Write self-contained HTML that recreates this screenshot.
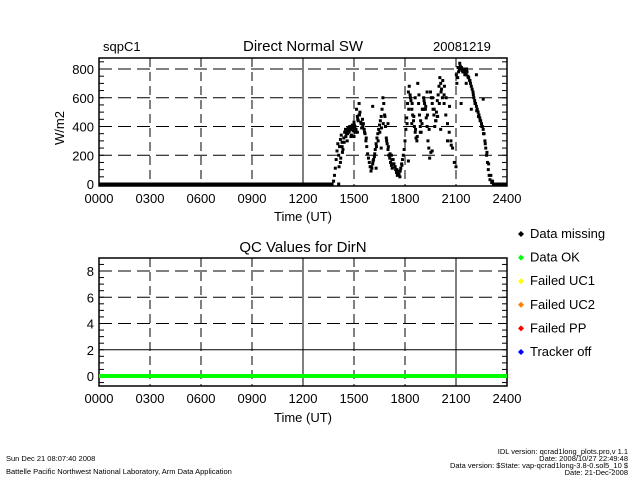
<!DOCTYPE html>
<html><head><meta charset="utf-8"><style>
body{margin:0;background:#fff;}
svg{display:block;font-family:"Liberation Sans",sans-serif;}
</style></head><body>
<svg id="c" width="640" height="480" viewBox="0 0 640 480">
<rect width="640" height="480" fill="#fff"/>
<g id="g1"></g>
<g id="g2"></g>
<text x="103" y="51" font-size="13">sqpC1</text>
<text x="303" y="51" font-size="15" text-anchor="middle">Direct Normal SW</text>
<text x="433" y="51" font-size="13">20081219</text>
<text x="64" y="128" font-size="13" text-anchor="middle" transform="rotate(-90 64 128)">W/m2</text>
<text x="303" y="221" font-size="13" text-anchor="middle">Time (UT)</text>
<text x="303" y="252" font-size="15" text-anchor="middle">QC Values for DirN</text>
<text x="303" y="422" font-size="13" text-anchor="middle">Time (UT)</text>
<g id="legend"></g>
<g font-size="7.5">
<text x="6" y="461">Sun Dec 21 08:07:40 2008</text>
<text x="6" y="474">Battelle Pacific Northwest National Laboratory, Arm Data Application</text>
<text x="628" y="454" text-anchor="end">IDL version: qcrad1long_plots.pro,v 1.1</text>
<text x="628" y="461" text-anchor="end">Date: 2008/10/27 22:49:48</text>
<text x="628" y="468" text-anchor="end">Data version: $State: vap-qcrad1long-3.8-0.sol5_10 $</text>
<text x="628" y="475" text-anchor="end">Date: 21-Dec-2008</text>
</g>
</svg>
<script>
const xTicks=["0000","0300","0600","0900","1200","1500","1800","2100","2400"];
const y1Ticks=[0,200,400,600,800];
const y2Ticks=[0,2,4,6,8];
const times=[13.7,13.8,13.85,13.9,13.95,14.0,14.05,14.1,14.15,14.2,14.25,14.3,14.35,14.4,14.45,14.5,14.55,14.6,14.65,14.7,14.75,14.8,14.85,14.9,14.95,15.0,15.05,15.1,15.15,15.2,15.25,15.3,15.35,15.4,15.45,15.5,15.55,15.6,15.65,15.7,15.75,15.8,15.85,15.9,15.95,16.0,16.05,16.1,16.15,16.2,16.25,16.3,16.35,16.4,16.45,16.5,16.55,16.6,16.65,16.7,16.75,16.8,16.85,16.9,16.95,17.0,17.05,17.1,17.15,17.2,17.25,17.3,17.35,17.4,17.45,17.5,17.55,17.6,17.65,17.7,17.75,17.8,17.85,17.9,17.95,18.0,18.05,18.1,18.15,18.2,18.25,18.3,18.35,18.4,18.45,18.5,18.55,18.6,18.65,18.7,18.75,18.8,18.85,18.9,18.95,19.0,19.05,19.1,19.15,19.2,19.25,19.3,19.35,19.4,19.45,19.5,19.55,19.6,19.65,19.7,19.75,19.8,19.85,19.9,19.95,20.0,20.05,20.1,20.15,20.2,20.3,20.4,20.5,20.6,20.7,20.8,20.9,21.0,21.05,21.1,21.15,21.2,21.25,21.3,21.35,21.4,21.45,21.5,21.55,21.6,21.65,21.7,21.75,21.8,21.85,21.9,21.95,22.0,22.05,22.1,22.15,22.2,22.25,22.3,22.35,22.4,22.45,22.5,22.55,22.6,22.65,22.7,22.75,22.8,22.85,22.9,22.95,23.0,23.1,23.2,14.1,14.2,14.3,14.6,14.8,15.0,15.2,15.3,16.1,16.3,16.6,17.0,17.2,18.2,18.4,18.6,18.9,19.1,19.3,19.6,19.9,20.1,20.3,20.5,21.3,21.6,21.9,22.2,22.6,
14.12,14.22,14.32,14.42,14.52,14.62,14.72,14.82,14.92,15.02,15.12,15.22,15.32,15.42,15.52,15.62,15.72,16.02,16.12,16.22,16.32,16.42,16.52,16.62,16.72,16.82,16.92,17.02,17.12,17.22,17.32,17.42,17.52,17.62,17.72,17.82,18.12,18.22,18.32,18.42,18.52,18.62,18.72,18.82,18.92,19.02,19.12,19.22,19.32,19.42,19.52,19.62,19.72,19.82,19.92,20.02,20.12,20.22,20.32,20.42,20.62,20.72,21.02,21.12,21.22,21.32,21.42,21.52,21.62,21.72,21.82,22.02,22.12,22.22,22.32,22.42,22.52,22.62,22.72,22.82,22.92,23.05,23.15];
const values=[0,20,60,110,170,230,280,200,260,310,340,290,240,320,360,380,350,370,390,360,400,380,340,410,370,430,400,360,520,470,440,560,500,430,390,450,420,380,350,300,260,210,180,150,120,90,110,140,170,190,240,280,320,350,380,410,440,470,520,600,560,480,400,320,280,240,200,180,150,130,110,170,140,120,100,80,60,90,70,50,110,140,170,200,240,300,380,460,560,640,680,620,580,520,480,440,400,360,320,300,700,560,480,400,360,420,520,600,560,520,460,400,300,250,180,640,600,560,520,480,400,440,500,580,620,680,740,700,660,600,560,480,420,360,300,250,150,120,700,740,780,800,820,800,790,780,800,790,770,760,780,750,740,720,700,680,660,640,600,580,560,540,520,500,480,460,440,420,400,380,350,300,250,200,150,100,60,30,10,0,0,150,260,300,400,330,360,480,540,110,250,420,200,160,420,600,360,520,640,230,470,380,620,300,560,700,520,760,590,
120,180,220,290,330,350,370,330,390,410,380,450,480,420,400,360,320,120,160,210,260,300,360,390,420,470,300,260,210,170,140,120,100,70,90,130,420,520,600,560,470,380,330,620,440,520,580,540,480,380,220,600,520,440,470,560,640,720,680,600,540,270,760,810,840,810,780,760,800,740,720,620,560,510,470,440,400,350,280,220,140,60,20];
const qcVals=[0,0];
const qcTimes=[0,24];
const NS="http://www.w3.org/2000/svg";
const L=99,R=507;
const X=h=>L+(R-L)*h/24;
const T1=58,B1=186,Y1=v=>184-v*(115/800);
const T2=258,B2=386,Y2=v=>376-v*(105/8);
function el(tag,at,p){const e=document.createElementNS(NS,tag);for(const k in at)e.setAttribute(k,at[k]);p.appendChild(e);return e;}
function panel(g,T,B,Y,yt,minorStep,ymax,ymin,hSolid){
  xTicks.forEach((t,i)=>{if(i==0||i==8)return;const x=X(i*3);
    const l=el('line',{x1:x,x2:x,y1:T,y2:B,stroke:'#000','stroke-width':1,'stroke-dasharray':(i==4||(hSolid&&i==7))?'':'9,5'},g);
    
    });
  yt.forEach(v=>{if(v==0)return;const y=Y(v);
    const l=el('line',{x1:L,x2:R,y1:y,y2:y,stroke:'#000','stroke-width':1,'stroke-dasharray':(hSolid&&v==2)?'':'13,6'},g);
    
    
    });
  for(let v=Math.ceil(ymin/minorStep)*minorStep;v<=ymax;v+=minorStep){const y=Y(v);
    el('line',{x1:L,x2:L+5,y1:y,y2:y,stroke:'#000'},g);el('line',{x1:R-5,x2:R,y1:y,y2:y,stroke:'#000'},g);}
  const f=el('rect',{x:L,y:T,width:R-L,height:B-T,fill:'none',stroke:'#000','stroke-width':1.5},g);
  
  
  xTicks.forEach((t,i)=>{const tx=el('text',{x:X(i*3),y:B+17,'font-size':13,'text-anchor':'middle'},g);tx.textContent=t;
    
    });
  yt.forEach(v=>{const tx=el('text',{x:L-5,y:Y(v)+5,'font-size':13,'text-anchor':'end'},g);tx.textContent=v;
    
    });
}
const g1=document.getElementById('g1'),g2=document.getElementById('g2');
panel(g1,T1,B1,Y1,y1Ticks,50,885,-10,false);
panel(g2,T2,B2,Y2,y2Ticks,0.5,8.9,-0.7,true);
const bl=el('line',{x1:X(0),x2:X(13.8),y1:Y1(0),y2:Y1(0),stroke:'#000','stroke-width':3},g1);


const bl2=el('line',{x1:X(23.2),x2:X(24),y1:Y1(0),y2:Y1(0),stroke:'#000','stroke-width':3},g1);


times.forEach((t,i)=>{const p=el('rect',{x:X(t)-1.5,y:Y1(values[i])-1.5,width:3,height:3,fill:'#000'},g1);
  
  });
const q=el('line',{x1:X(qcTimes[0]),x2:X(qcTimes[1]),y1:Y2(qcVals[0]),y2:Y2(qcVals[1]),stroke:'#00ff00','stroke-width':4},g2);


const legNames=["Data missing","Data OK","Failed UC1","Failed UC2","Failed PP","Tracker off"];
const legColors=["#000","#00ff00","#ffff00","#ff8000","#ff0000","#0000ff"];
const lg=document.getElementById('legend');
legNames.forEach((n,i)=>{const y=237+i*23.6;
  const d=el('path',{d:`M${521},${y-6} l3,3 l-3,3 l-3,-3z`,fill:legColors[i]},lg);
  
  
  const t=el('text',{x:530,y:y+1,'font-size':13},lg);t.textContent=n;
  
  });
</script>
</body></html>
